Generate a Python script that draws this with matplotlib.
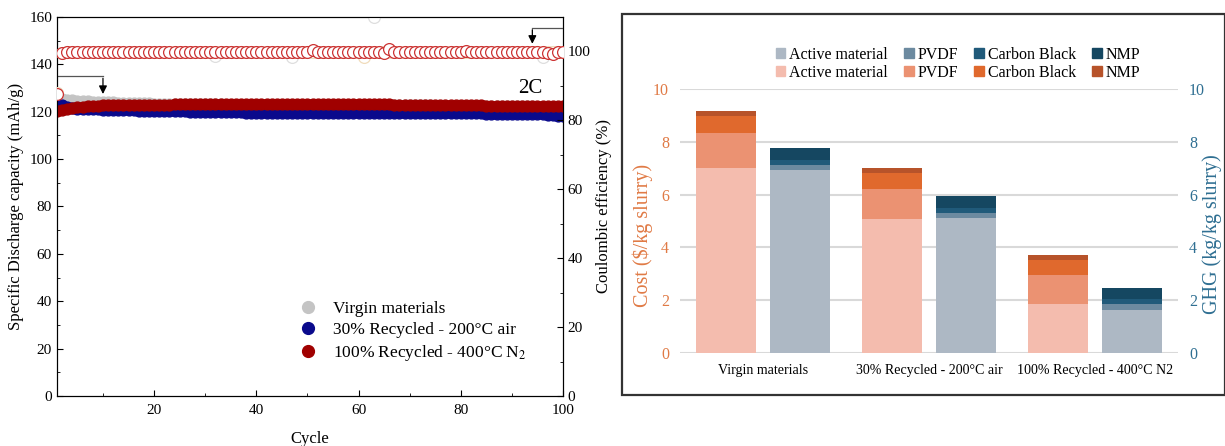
import matplotlib
matplotlib.use("Agg")
import matplotlib.pyplot as plt
from matplotlib.patches import Patch, Rectangle
from matplotlib.lines import Line2D
from matplotlib.ticker import MultipleLocator, FixedLocator

plt.rcParams['font.family'] = ['Liberation Serif', 'DejaVu Serif']
plt.rcParams['mathtext.fontset'] = 'stix'

# ---------------- left panel data: cycling ----------------
cycles = list(range(1, 101))

cap_virgin = [125.8, 125.4, 125.1, 124.9, 124.7, 124.5, 124.4, 124.3, 124.2, 124.1,
              124.0, 123.9, 123.8, 123.8, 123.7, 123.6, 123.6, 123.5, 123.5, 123.4,
              123.4, 123.3, 123.3, 123.3, 123.2, 123.2, 123.2, 123.2, 123.1, 123.1,
              123.1, 123.1, 123.1, 123.0, 123.0, 123.0, 123.0, 123.0, 123.0, 123.0,
              123.0, 123.0, 123.0, 122.9, 122.9, 122.9, 122.9, 122.9, 122.9, 122.9,
              122.9, 122.9, 122.9, 122.9, 122.9, 122.9, 122.9, 122.8, 122.8, 122.8,
              122.8, 122.8, 122.8, 122.8, 122.8, 122.8, 122.7, 122.7, 122.7, 122.7,
              122.7, 122.7, 122.7, 122.7, 122.6, 122.6, 122.6, 122.6, 122.6, 122.6,
              122.5, 122.5, 122.5, 122.5, 122.5, 122.4, 122.4, 122.4, 122.4, 122.4,
              122.3, 122.3, 122.3, 122.3, 122.2, 122.2, 122.2, 122.1, 122.1, 122.0]

cap_30 = [122.5, 123.0, 122.0, 121.5, 121.3, 121.2, 121.1, 121.0, 121.0, 120.9,
          120.8, 120.8, 120.7, 120.7, 120.6, 120.6, 120.5, 120.5, 120.4, 120.4,
          120.3, 120.3, 120.2, 120.2, 120.1, 120.1, 120.0, 120.0, 119.9, 119.9,
          119.9, 119.8, 119.8, 119.8, 119.7, 119.7, 119.7, 119.6, 119.6, 119.6,
          119.5, 119.5, 119.5, 119.5, 119.4, 119.4, 119.4, 119.4, 119.4, 119.4,
          119.3, 119.3, 119.3, 119.3, 119.3, 119.3, 119.3, 119.3, 119.3, 119.3,
          119.3, 119.3, 119.3, 119.4, 119.4, 119.4, 119.4, 119.4, 119.4, 119.4,
          119.4, 119.4, 119.4, 119.4, 119.4, 119.4, 119.4, 119.4, 119.4, 119.4,
          119.3, 119.3, 119.3, 119.3, 119.2, 119.2, 119.2, 119.2, 119.1, 119.1,
          119.1, 119.0, 119.0, 119.0, 119.0, 118.9, 118.8, 118.6, 118.4, 118.2]

cap_100 = [120.3, 120.8, 121.3, 121.7, 122.0, 122.2, 122.4, 122.5, 122.6, 122.7,
           122.7, 122.8, 122.8, 122.8, 122.9, 122.9, 122.9, 123.0, 123.0, 123.0,
           123.0, 123.0, 123.0, 123.1, 123.1, 123.1, 123.1, 123.1, 123.1, 123.1,
           123.1, 123.1, 123.2, 123.2, 123.2, 123.2, 123.2, 123.2, 123.2, 123.2,
           123.2, 123.2, 123.2, 123.2, 123.2, 123.2, 123.2, 123.2, 123.2, 123.2,
           123.2, 123.2, 123.2, 123.2, 123.2, 123.2, 123.2, 123.2, 123.2, 123.2,
           123.1, 123.1, 123.1, 123.1, 123.1, 123.1, 123.0, 123.0, 123.0, 123.0,
           123.0, 122.9, 122.9, 122.9, 122.9, 122.9, 122.8, 122.8, 122.8, 122.8,
           122.7, 122.7, 122.7, 122.7, 122.6, 122.6, 122.6, 122.6, 122.5, 122.5,
           122.5, 122.5, 122.4, 122.4, 122.4, 122.4, 122.3, 122.3, 122.3, 122.3]

ce_virgin = [88.0, 99.4, 99.7, 99.8, 99.8, 99.8, 99.8, 99.8, 99.8, 99.8,
             99.8, 99.8, 99.8, 99.8, 99.8, 99.8, 99.8, 99.8, 99.8, 99.8,
             99.8, 99.8, 99.8, 99.8, 99.8, 99.8, 99.8, 99.8, 99.8, 99.8,
             99.8, 98.6, 99.8, 99.8, 99.8, 99.8, 99.8, 99.8, 99.8, 99.8,
             99.8, 99.8, 99.8, 99.8, 99.8, 99.8, 98.5, 99.8, 99.8, 99.8,
             99.8, 99.8, 99.8, 99.8, 99.8, 99.8, 99.8, 99.8, 99.8, 99.8,
             99.8, 99.8, 110.0, 99.8, 99.8, 99.8, 99.8, 99.8, 99.8, 99.8,
             99.8, 99.8, 99.8, 99.8, 99.8, 99.8, 99.8, 99.8, 99.8, 99.8,
             99.8, 99.8, 99.8, 99.8, 99.8, 99.8, 99.8, 99.8, 99.8, 99.8,
             99.8, 99.8, 99.8, 99.8, 99.8, 98.5, 99.8, 99.8, 99.8, 99.8]

ce_30 = [88.0, 99.4, 99.7, 99.8, 99.8, 99.8, 99.8, 99.8, 99.8, 99.8,
         99.8, 99.8, 99.8, 99.8, 99.8, 99.8, 99.8, 99.8, 99.8, 99.8,
         99.8, 99.8, 99.8, 99.8, 99.8, 99.8, 99.8, 99.8, 99.8, 99.8,
         99.8, 99.8, 99.8, 99.8, 99.8, 99.8, 99.8, 99.8, 99.8, 99.8,
         99.8, 99.8, 99.8, 99.8, 99.8, 99.8, 99.8, 99.8, 99.8, 99.8,
         99.8, 99.8, 99.8, 99.8, 99.8, 99.8, 99.8, 99.8, 99.8, 99.8,
         98.3, 99.8, 99.8, 99.8, 99.8, 99.8, 99.8, 99.8, 99.8, 99.8,
         99.8, 99.8, 99.8, 99.8, 99.8, 99.8, 99.8, 99.8, 99.8, 99.8,
         99.8, 99.8, 99.8, 99.8, 99.8, 99.8, 99.8, 99.8, 99.8, 99.8,
         99.8, 99.8, 99.8, 99.8, 99.8, 99.8, 99.8, 99.8, 99.8, 99.8]

ce_100 = [87.5, 99.4, 99.8, 99.9, 99.9, 99.9, 99.9, 99.9, 99.9, 99.9,
          99.9, 99.9, 99.9, 99.9, 99.9, 99.9, 99.9, 99.9, 99.9, 99.9,
          99.9, 99.9, 99.9, 99.9, 99.9, 99.9, 99.9, 99.9, 99.9, 99.9,
          99.9, 99.9, 99.9, 99.9, 99.9, 99.9, 99.9, 99.9, 99.9, 99.9,
          99.9, 99.9, 99.9, 99.9, 99.9, 99.9, 99.9, 99.9, 99.9, 99.8,
          100.3, 99.8, 99.8, 99.8, 99.8, 99.8, 99.8, 99.8, 99.8, 99.8,
          99.8, 99.8, 99.8, 99.8, 99.6, 100.6, 99.8, 99.8, 99.8, 99.8,
          99.8, 99.8, 99.8, 99.8, 99.8, 99.8, 99.8, 99.8, 99.8, 99.8,
          100.2, 99.8, 99.8, 99.8, 99.8, 99.8, 99.8, 99.8, 99.8, 99.8,
          99.8, 99.8, 99.8, 99.8, 99.8, 99.8, 99.6, 99.2, 99.7, 99.8]

series_names = ['Virgin materials', '30% Recycled - 200°C air', '100% Recycled - 400°C N$_2$']

# ---------------- right panel data: cost / GHG ----------------
groups = ['Virgin materials', '30% Recycled - 200°C air', '100% Recycled - 400°C N2']
components = ['Active material', 'PVDF', 'Carbon Black', 'NMP']
cost_active = [7.0, 5.07, 1.84]
cost_pvdf = [1.33, 1.14, 1.13]
cost_cb = [0.63, 0.62, 0.54]
cost_nmp = [0.21, 0.18, 0.21]
ghg_active = [6.92, 5.13, 1.64]
ghg_pvdf = [0.19, 0.19, 0.20]
ghg_cb = [0.19, 0.18, 0.21]
ghg_nmp = [0.45, 0.44, 0.42]

cost_colors = ['#f4bcae', '#eb9272', '#e0692d', '#b7532a']
ghg_colors = ['#adb8c4', '#6c8aa0', '#205a7a', '#154761']

fig = plt.figure(figsize=(12.25, 4.46), dpi=100)

# ================= left panel =================
ax = fig.add_axes([0.0465, 0.112, 0.4131, 0.850])
ax2 = ax.twinx()

ax.plot(cycles, cap_virgin, 'o', color='#c4c4c4', ms=7.8, mec='#c4c4c4', zorder=2)
ax.plot(cycles, cap_30, 'o', color='#0a0a8c', ms=7.8, mec='#0a0a8c', zorder=3)
ax.plot(cycles, cap_100, 'o', color='#a00000', ms=7.8, mec='#a00000', zorder=4)

ax2.plot(cycles, ce_virgin, 'o', mfc='white', mec='#dedede', ms=8.5, mew=0.9, zorder=2)
ax2.plot(cycles, ce_30, 'o', mfc='white', mec='#f0dcbc', ms=8.5, mew=0.9, zorder=3)
ax2.plot(cycles, ce_100, 'o', mfc='white', mec='#cc3333', ms=8.5, mew=0.9, zorder=4)

ax.set_xlim(1, 100)
ax.set_ylim(0, 160)
ax2.set_ylim(0, 110)
ax.xaxis.set_major_locator(FixedLocator([20, 40, 60, 80, 100]))
ax.xaxis.set_minor_locator(FixedLocator([10, 30, 50, 70, 90]))
ax.yaxis.set_major_locator(MultipleLocator(20))
ax.yaxis.set_minor_locator(MultipleLocator(10))
ax2.yaxis.set_major_locator(MultipleLocator(20))
ax2.yaxis.set_minor_locator(MultipleLocator(10))
for a in (ax, ax2):
    a.tick_params(which='major', direction='in', length=4, labelsize=11)
    a.tick_params(which='minor', direction='in', length=2.5)
ax.tick_params(axis='x', pad=6)

ax.set_xlabel('Cycle', fontsize=12, labelpad=10)
ax.set_ylabel('Specific Discharge capacity (mAh/g)', fontsize=12, labelpad=4)
ax2.set_ylabel('Coulombic efficiency (%)', fontsize=12, labelpad=4)

# arrows pointing to the axes each series belongs to
ax.plot([1, 10], [135, 135], color='#555555', lw=0.9, zorder=5)
ax.annotate('', xy=(10, 126.3), xytext=(10, 135.3),
            arrowprops=dict(arrowstyle='-|>', color='black', lw=0.9, mutation_scale=12), zorder=5)
ax2.plot([100, 94], [106.9, 106.9], color='#555555', lw=0.9, zorder=5)
ax2.annotate('', xy=(94, 101.4), xytext=(94, 107.1),
             arrowprops=dict(arrowstyle='-|>', color='black', lw=0.9, mutation_scale=12), zorder=5)
ax.text(93.5, 129.6, '2C', fontsize=15, ha='center', va='center')

leg_handles = [Line2D([], [], ls='none', marker='o', ms=8.5, color=c)
               for c in ['#c4c4c4', '#0a0a8c', '#a00000']]
ax.legend(leg_handles, series_names, loc='lower left', bbox_to_anchor=(0.445, 0.045),
          frameon=False, fontsize=12.5, handlelength=1.2, handletextpad=0.8,
          labelspacing=0.3)

# ================= right panel =================
fig.patches.append(Rectangle((0.5078, 0.1143), 0.492, 0.8543, transform=fig.transFigure,
                             fill=False, edgecolor='#333333', lw=1.6))

bx = fig.add_axes([0.5551, 0.2085, 0.4065, 0.5919])
bx2 = bx.twinx()
xpos = list(range(len(groups)))
off = 0.223
w = 0.357

cost_stack = [cost_active, cost_pvdf, cost_cb, cost_nmp]
ghg_stack = [ghg_active, ghg_pvdf, ghg_cb, ghg_nmp]
bottom = [0, 0, 0]
cost_h = []
for vals, col, name in zip(cost_stack, cost_colors, components):
    bx.bar([x - off for x in xpos], vals, w, bottom=bottom, color=col, zorder=3)
    bottom = [b + v for b, v in zip(bottom, vals)]
    cost_h.append(Patch(color=col, label=name))
bottom = [0, 0, 0]
ghg_h = []
for vals, col, name in zip(ghg_stack, ghg_colors, components):
    bx2.bar([x + off for x in xpos], vals, w, bottom=bottom, color=col, zorder=3)
    bottom = [b + v for b, v in zip(bottom, vals)]
    ghg_h.append(Patch(color=col, label=name))

for a in (bx, bx2):
    a.set_ylim(0, 10)
    a.yaxis.set_major_locator(MultipleLocator(2))
    for s in a.spines.values():
        s.set_visible(False)
bx.set_xlim(-0.5, 2.5)
bx.grid(axis='y', color='#d9d9d9', lw=1.5, zorder=0)
bx.set_axisbelow(True)
bx.set_xticks(xpos)
bx.set_xticklabels(groups, fontsize=10.1)
bx.tick_params(axis='x', length=0, pad=8)
bx.tick_params(axis='y', length=0, labelsize=11.5, colors='#e07a45', pad=8)
bx2.tick_params(axis='y', length=0, labelsize=11.5, colors='#2f6f92', pad=8)
bx.set_ylabel('Cost ($/kg slurry)', fontsize=14.5, color='#e07a45')
bx2.set_ylabel('GHG (kg/kg slurry)', fontsize=14.5, color='#2f6f92')
bx.yaxis.set_label_coords(-0.055, 0.447)
bx2.yaxis.set_label_coords(1.048, 0.45)

order = []
for g, c in zip(ghg_h, cost_h):
    order += [g, c]
fig.legend(handles=order, ncol=4, loc='center', bbox_to_anchor=(0.782, 0.857),
           frameon=False, fontsize=11.5, handlelength=0.6, handleheight=0.6,
           handletextpad=0.25, columnspacing=1.0, labelspacing=0.1)

fig.savefig('out.png', dpi=100)
